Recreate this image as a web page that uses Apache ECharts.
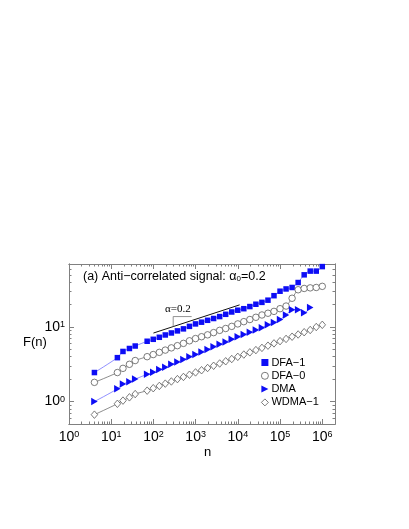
<!DOCTYPE html>
<html>
<head>
<meta charset="utf-8">
<script src="https://cdn.jsdelivr.net/npm/echarts@6/dist/echarts.min.js"></script>
<style>
  html, body { margin: 0; padding: 0; background: #fff; }
  #chart { width: 409px; height: 529px; }
</style>
</head>
<body>
<div id="chart"></div>
<script>
// 窗口大小 n
const nValues = [4, 14, 19, 27, 37, 71, 99, 138, 191, 266, 370, 514, 714, 993, 1380, 1919, 2667, 3707,
  5152, 7161, 9954, 13836, 19231, 26730, 37154, 51642, 71779, 99770, 138676, 192752, 267917,
  372391, 517606, 719449, 1000000];
// F(n) 各方法
const dfa1 = [2.45, 3.88, 4.70, 5.15, 5.56, 6.44, 6.84, 7.28, 7.82, 8.32, 8.87, 9.44, 10.2, 11.0,
  11.6, 12.3, 13.0, 13.8, 14.8, 15.9, 16.8, 17.6, 18.8, 20.2, 21.4, 22.9, 26.3, 30.2, 32.4, 33.9,
  39.5, 50.1, 56.2, 56.2, 64.6];
const dfa0 = [1.81, 2.45, 2.79, 3.16, 3.55, 4.00, 4.27, 4.57, 4.90, 5.25, 5.62, 6.03, 6.53, 7.00,
  7.41, 7.85, 8.41, 9.02, 9.55, 10.2, 11.0, 11.8, 12.6, 13.5, 14.5, 15.3, 16.2, 17.6, 19.1, 24.3,
  31.6, 32.9, 33.5, 33.9, 35.1];
const dma = [1.00, 1.48, 1.72, 1.84, 2.00, 2.32, 2.48, 2.69, 2.88, 3.16, 3.39, 3.67, 3.98, 4.27,
  4.62, 5.01, 5.43, 5.89, 6.31, 6.84, 7.41, 7.94, 8.51, 9.12, 9.77, 10.7, 11.5, 12.6, 14.5, 17.0,
  17.0, 15.5, 18.2];
const wdma1 = [0.667, 0.933, 1.03, 1.14, 1.26, 1.40, 1.51, 1.62, 1.74, 1.86, 2.00, 2.14, 2.29, 2.46,
  2.63, 2.82, 3.02, 3.24, 3.47, 3.72, 3.98, 4.27, 4.57, 4.90, 5.25, 5.62, 6.03, 6.46, 6.92, 7.41,
  7.94, 8.51, 9.12, 10.0, 10.7];
// α=0.2 参考线
const slopeLine = [[100, 8.3], [11000, 19.8]];
const slopeMark = [[804, 13.8], [294, 13.8], [294, 10.1]];
// 刻度
const xExponents = [0, 1, 2, 3, 4, 5, 6];
const yExponents = [0, 1];
const xRange = [1, 2e6];
const yRange = [0.5, 70];

const FONT = "'Liberation Sans', Arial, sans-serif";
const BLUE = "#0d0df5";
const BLUE_LINE = "#6060ff";
const GRAY = "#5a5a5a";
const FRAME = "#808080";
const triPath = "path://M0,0L10,5L0,10Z";

function pairs(vals) {
  return vals.map((v, i) => [nValues[i], v]);
}

// 对数轴的次刻度位置 (log10)
function minorTicks(lo, hi) {
  const out = [];
  for (let d = Math.floor(Math.log10(lo)); d <= Math.ceil(Math.log10(hi)); d++) {
    for (let k = 2; k <= 9; k++) {
      const v = k * Math.pow(10, d);
      if (v >= lo && v <= hi) out.push(Math.log10(v));
    }
  }
  return out;
}

const lx = xRange.map(Math.log10);
const ly = yRange.map(Math.log10);
const supRich = {
  s: { fontSize: 9, fontFamily: FONT, color: "#000", verticalAlign: "top", padding: [0, 0, 3, 0] },
};

function tickAxis(range, pos, values, len, withLabel) {
  return {
    type: "value",
    position: pos,
    min: range[0],
    max: range[1],
    axisLine: { show: true, onZero: false, lineStyle: { color: FRAME, width: 1 } },
    axisTick: { show: true, inside: true, length: len, customValues: values, lineStyle: { color: FRAME } },
    axisLabel: withLabel
      ? {
          show: true,
          customValues: values,
          fontSize: 14,
          fontFamily: FONT,
          color: "#000",
          margin: pos === "bottom" ? 6 : 4,
          formatter: (v) => "10{s|" + Math.round(v) + "}",
          rich: supRich,
        }
      : { show: false },
    splitLine: { show: false },
  };
}

// 空心符号：白色填充 + 灰色细边框
const openStyle = { color: "#fff", borderColor: GRAY, borderWidth: 0.8 };

const chart = echarts.init(document.getElementById("chart"));

chart.setOption({
  animation: false,
  grid: { left: 69, top: 264, width: 266, height: 160 },
  xAxis: [
    { type: "log", min: xRange[0], max: xRange[1], show: false },
    tickAxis(lx, "bottom", xExponents, 5, true),
    tickAxis(lx, "bottom", minorTicks(xRange[0], xRange[1]), 2.5, false),
    tickAxis(lx, "top", xExponents, 5, false),
    tickAxis(lx, "top", minorTicks(xRange[0], xRange[1]), 2.5, false),
  ],
  yAxis: [
    { type: "log", min: yRange[0], max: yRange[1], show: false },
    tickAxis(ly, "left", yExponents, 5, true),
    tickAxis(ly, "left", minorTicks(yRange[0], yRange[1]), 2.5, false),
    tickAxis(ly, "right", yExponents, 5, false),
    tickAxis(ly, "right", minorTicks(yRange[0], yRange[1]), 2.5, false),
  ],
  legend: {
    orient: "vertical",
    left: 256,
    top: 352,
    padding: 5,
    itemWidth: 7,
    itemHeight: 7,
    itemGap: 2.3,
    itemStyle: { borderWidth: 0.8 },
    textStyle: { fontFamily: FONT, fontSize: 11, color: "#000", padding: [0, 0, 0, -2] },
    data: [
      { name: "DFA−1", icon: "rect" },
      { name: "DFA−0", icon: "circle" },
      { name: "DMA", icon: triPath },
      { name: "WDMA−1", icon: "diamond" },
    ],
  },
  series: [
    {
      name: "α=0.2",
      type: "line",
      data: slopeLine,
      symbol: "none",
      lineStyle: { color: "#111", width: 1 },
      silent: true,
    },
    {
      name: "mark",
      type: "line",
      data: slopeMark,
      symbol: "none",
      lineStyle: { color: "#777", width: 0.8 },
      silent: true,
    },
    {
      name: "DFA−1",
      type: "line",
      data: pairs(dfa1),
      smooth: 0.3,
      symbol: "rect",
      symbolSize: 5.5,
      itemStyle: { color: BLUE },
      lineStyle: { color: BLUE_LINE, width: 0.7 },
    },
    {
      name: "DFA−0",
      type: "line",
      data: pairs(dfa0),
      smooth: 0.3,
      symbol: "circle",
      symbolSize: 6.5,
      itemStyle: openStyle,
      lineStyle: { color: GRAY, width: 0.7 },
    },
    {
      name: "DMA",
      type: "line",
      data: pairs(dma),
      smooth: 0.3,
      symbol: triPath,
      symbolSize: [6.5, 7.5],
      itemStyle: { color: BLUE },
      lineStyle: { color: BLUE_LINE, width: 0.7 },
    },
    {
      name: "WDMA−1",
      type: "line",
      data: pairs(wdma1),
      smooth: 0.3,
      symbol: "diamond",
      symbolSize: [6.5, 7.5],
      itemStyle: openStyle,
      lineStyle: { color: GRAY, width: 0.7 },
    },
  ],
  graphic: [
    {
      type: "text",
      left: 83,
      top: 270,
      style: {
        text: "(a) Anti−correlated signal: α{u|0}=0.2",
        font: "12.5px " + FONT,
        fill: "#000",
        rich: { u: { fontSize: 8, fontFamily: FONT, verticalAlign: "bottom" } },
      },
    },
    {
      type: "text",
      left: 165,
      top: 304,
      style: { text: "α=0.2", font: "11px 'Liberation Serif', serif", fill: "#000" },
    },
    {
      type: "text",
      left: 23,
      top: 336,
      style: { text: "F(n)", font: "13px " + FONT, fill: "#000" },
    },
    {
      type: "text",
      left: 204,
      top: 446,
      style: { text: "n", font: "13px " + FONT, fill: "#000" },
    },
  ],
});
</script>
</body>
</html>
